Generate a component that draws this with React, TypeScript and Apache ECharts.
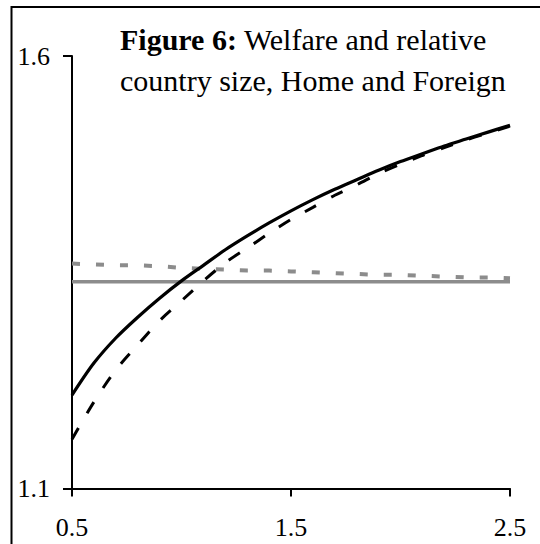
import React, { useEffect, useRef } from "react";
import * as echarts from "echarts";

// Relative country size (x axis)
const xValues = [0.5, 0.6, 0.7, 0.8, 0.9, 1.0, 1.1, 1.2, 1.3, 1.4, 1.5, 1.6, 1.7, 1.8, 1.9, 2.0, 2.1, 2.2, 2.3, 2.4, 2.5];
// Home welfare (solid black)
const homeSolid = [1.208, 1.245, 1.274, 1.298, 1.32, 1.34, 1.358, 1.376, 1.392, 1.407, 1.421, 1.434, 1.446, 1.457, 1.468, 1.478, 1.487, 1.496, 1.504, 1.512, 1.52];
// Home welfare (dashed black)
const homeDashed = [1.157, 1.2, 1.237, 1.266, 1.294, 1.317, 1.34, 1.361, 1.378, 1.395, 1.411, 1.425, 1.439, 1.451, 1.464, 1.475, 1.485, 1.494, 1.503, 1.511, 1.519];
// Foreign welfare (dashed grey)
const foreignDashed = [1.36, 1.359, 1.358, 1.358, 1.357, 1.355, 1.354, 1.353, 1.352, 1.352, 1.351, 1.35, 1.349, 1.348, 1.347, 1.347, 1.346, 1.345, 1.344, 1.344, 1.343];
// Foreign welfare (solid grey)
const foreignSolid = [1.339, 1.339, 1.339, 1.339, 1.339, 1.339, 1.339, 1.339, 1.339, 1.339, 1.339, 1.339, 1.339, 1.339, 1.339, 1.339, 1.339, 1.339, 1.339, 1.339, 1.339];

const xTicks = [0.5, 1.5, 2.5];
const yTicks = [1.1, 1.6];

const titleBold = "Figure 6:";
const titleLine1 = " Welfare and relative";
const titleLine2 = "country size, Home and Foreign";

const FONT = "'Liberation Serif', 'Times New Roman', serif";
const GREY = "#8c8c8c";

const pairs = (ys: number[]) => xValues.map((x, i) => [x, ys[i]]);

export default function App() {
  const ref = useRef<HTMLDivElement>(null);
  useEffect(() => {
    document.body.style.margin = "0";
    if (!ref.current) return;
    const chart = echarts.init(ref.current, null, { renderer: "svg" });
    chart.setOption({
      animation: false,
      backgroundColor: "#ffffff",
      title: {
        left: 120,
        top: 19,
        padding: 0,
        text: `{b|${titleBold}}{r|${titleLine1}}\n{r|${titleLine2}}`,
        textStyle: {
          rich: {
            b: { fontFamily: FONT, fontSize: 30, fontWeight: "bold", color: "#000", lineHeight: 41 },
            r: { fontFamily: FONT, fontSize: 30, fontWeight: "normal", color: "#000", lineHeight: 41 },
          },
        },
      },
      grid: { left: 72, right: 30, top: 56, bottom: 55.5, containLabel: false },
      xAxis: {
        type: "value",
        min: 0.5,
        max: 2.5,
        splitLine: { show: false },
        axisLine: { show: true, onZero: false, lineStyle: { color: "#000", width: 2 } },
        axisTick: { show: true, length: 8, customValues: xTicks, lineStyle: { color: "#000", width: 2 } },
        axisLabel: {
          customValues: xTicks,
          margin: 26,
          color: "#000",
          fontFamily: FONT,
          fontSize: 26,
          formatter: (v: number) => v.toFixed(1),
        },
      },
      yAxis: {
        type: "value",
        min: 1.1,
        max: 1.6,
        splitLine: { show: false },
        axisLine: { show: true, onZero: false, lineStyle: { color: "#000", width: 2 } },
        axisTick: { show: true, length: 9, customValues: yTicks, lineStyle: { color: "#000", width: 2 } },
        axisLabel: {
          customValues: yTicks,
          margin: 22,
          color: "#000",
          fontFamily: FONT,
          fontSize: 26,
          formatter: (v: number) => v.toFixed(1),
        },
      },
      graphic: [
        {
          type: "rect",
          shape: { x: 11.5, y: 7, width: 700, height: 700 },
          style: { fill: "none", stroke: "#000", lineWidth: 2 },
          silent: true,
        },
      ],
      series: [
        {
          type: "line",
          name: "Foreign (solid)",
          data: pairs(foreignSolid),
          showSymbol: false,
          lineStyle: { color: GREY, width: 3.5 },
          z: 1,
        },
        {
          type: "line",
          name: "Foreign (dashed)",
          data: pairs(foreignDashed),
          showSymbol: false,
          lineStyle: { color: GREY, width: 4, type: [8, 16], cap: "butt" },
          z: 2,
        },
        {
          type: "line",
          name: "Home (dashed)",
          data: pairs(homeDashed),
          showSymbol: false,
          smooth: 0.3,
          lineStyle: { color: "#000", width: 3, type: [13, 17], cap: "butt" },
          z: 3,
        },
        {
          type: "line",
          name: "Home (solid)",
          data: pairs(homeSolid),
          showSymbol: false,
          smooth: 0.3,
          lineStyle: { color: "#000", width: 3.2 },
          z: 4,
        },
      ],
    });
    return () => chart.dispose();
  }, []);
  return <div ref={ref} style={{ width: 540, height: 544 }} />;
}
